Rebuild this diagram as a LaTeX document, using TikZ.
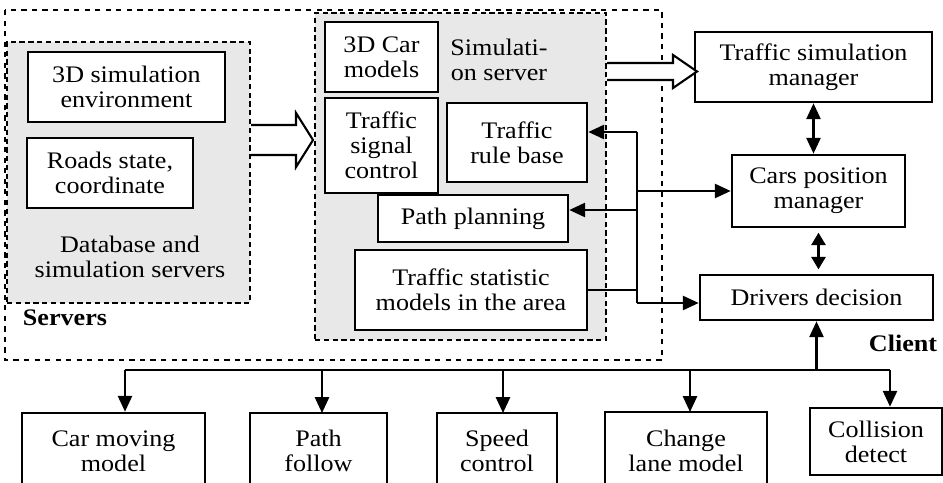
\documentclass[tikz,border=0pt]{standalone}
\usepackage{fontspec}
\setmainfont[FakeStretch=1.1]{Liberation Serif}
\usepackage{xcolor}
\usepackage{tikz}
\usetikzlibrary{shapes.geometric, arrows, arrows.meta, positioning, fit, backgrounds}

\begin{document}
\begin{tikzpicture}[x=0.02cm, y=-0.02cm, font=\fontsize{13.5}{14.2}\selectfont]
\tikzstyle{box} = [rectangle, draw, line width=1.5pt, fill=white, align=center, inner sep=1pt]
\tikzstyle{shade} = [rectangle, draw, densely dashed, line width=1.2pt, fill=gray!18]
\tikzstyle{link} = [line width=1.3pt, -{Triangle[length=9pt, width=8pt]}]
\tikzstyle{both} = [line width=1.3pt, {Triangle[length=9pt, width=8pt]}-{Triangle[length=9pt, width=8pt]}]
\tikzstyle{hollow} = [line width=1.2pt, fill=white]

\useasboundingbox (0,0) rectangle (943,483);

% server side
\draw[dashed, line width=0.9pt] (5,10) rectangle (662,360);
\node (servers) at (65,318) {\textbf{Servers}};

\node (db) [shade, minimum width=4.86cm, minimum height=5.22cm] at (128.5,172.5) {};
\node (env) [box, minimum width=3.94cm, minimum height=1.4cm] at (126.5,87) {3D simulation\\environment};
\node (roads) [box, minimum width=3.32cm, minimum height=1.4cm] at (110,173) {Roads state,\\coordinate};
\node (dblabel) [align=center] at (130,257) {Database and\\simulation servers};

\node (sim) [shade, minimum width=5.82cm, minimum height=6.54cm] at (460.5,176.5) {};
\node (car3d) [box, minimum width=2.26cm, minimum height=1.4cm] at (381.5,57) {3D Car\\models};
\node (simlabel) [align=center] at (499,60) {Simulati-\\on server};
\node (signal) [box, minimum width=2.26cm, minimum height=1.9cm] at (381.5,145.5) {Traffic\\signal\\control};
\node (rule) [box, minimum width=2.8cm, minimum height=1.58cm] at (517,142.5) {Traffic\\rule base};
\node (plan) [box, minimum width=3.8cm, minimum height=0.94cm] at (473,218.5) {Path planning};
\node (stat) [box, minimum width=4.64cm, minimum height=1.6cm] at (471,290) {Traffic statistic\\models in the area};

% client side
\node (tsm) [box, minimum width=4.74cm, minimum height=1.4cm] at (813.5,67) {Traffic simulation\\manager};
\node (cpm) [box, minimum width=3.46cm, minimum height=1.44cm] at (818.5,191) {Cars position\\manager};
\node (dd) [box, minimum width=4.66cm, minimum height=0.9cm] at (816.5,297.5) {Drivers decision};
\node (client) at (903,343) {\textbf{Client}};

\node (cmm) [box, minimum width=3.66cm, minimum height=1.52cm] at (113.5,451) {Car moving\\model};
\node (pf) [box, minimum width=2.74cm, minimum height=1.52cm] at (318.5,451) {Path\\follow};
\node (sc) [box, minimum width=2.4cm, minimum height=1.52cm] at (497,451) {Speed\\control};
\node (clm) [box, minimum width=3.24cm, minimum height=1.54cm] at (686,450.5) {Change\\lane model};
\node (cd) [box, minimum width=2.64cm, minimum height=1.34cm] at (876,441.5) {Collision\\detect};

% hollow arrows
\coordinate (a1) at (db.east |- 0,140);
\draw[hollow] (a1) ++(0,-15) -- ++(45,0) -- ++(0,-12) -- ++(17,27) -- ++(-17,27) -- ++(0,-12) -- ++(-45,0);
\coordinate (a2) at (sim.east |- 0,71.5);
\draw[hollow] (a2) ++(0,-8.5) -- ++(66,0) -- ++(0,-8) -- ++(24,16.5) -- ++(-24,16.5) -- ++(0,-8) -- ++(-66,0);

% bus to the right
\coordinate (j1) at (637,132);
\coordinate (j2) at (637,210);
\coordinate (j4) at (637,303);
\draw[line width=1.3pt] (j1) -- (j4);
\draw[line width=1.3pt] (stat.east) -- (stat.east -| j1);
\draw[link] (j1) -- (j1 -| rule.east);
\draw[link] (j2) -- (j2 -| plan.east);
\draw[link] (j1 |- cpm.west) -- (cpm.west);
\draw[link] (j4) -- (j4 -| dd.west);

\draw[both] (tsm.south) -- (tsm.south |- cpm.north);
\draw[line width=1.3pt, {Triangle[length=7pt, width=8pt]}-{Triangle[length=7pt, width=8pt]}, shorten <=2.5pt, shorten >=2.5pt] (cpm.south) -- (cpm.south |- dd.north);

% bus at the bottom
\coordinate (bl) at (125,370);
\coordinate (br) at (890,370);
\draw[line width=1.3pt] (bl) -- (br);
\draw[link] (bl) -- (bl |- cmm.north);
\draw[link] (322,370) -- (322,413);
\draw[link] (503,370) -- (503,413);
\draw[link] (690,370) -- (690,412);
\draw[link] (br) -- (br |- cd.north);
\draw[link] (dd.south |- bl) -- (dd.south);
\end{tikzpicture}
\end{document}
